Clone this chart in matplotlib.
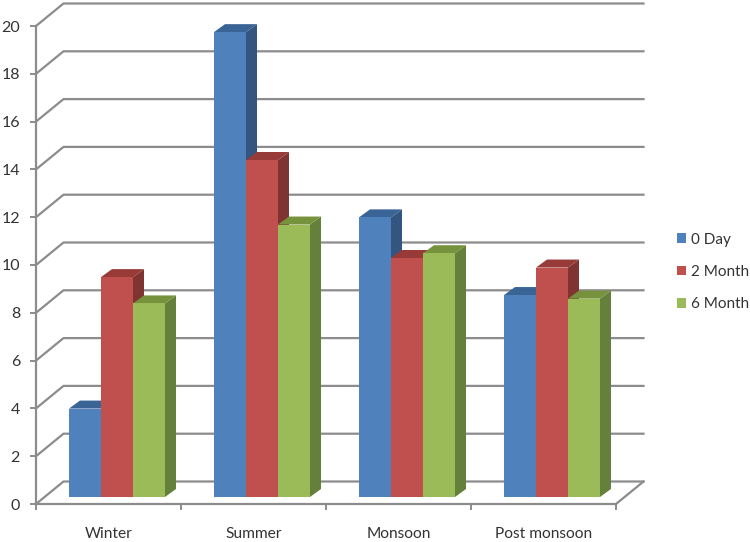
import matplotlib
matplotlib.use("Agg")
import matplotlib.pyplot as plt
from matplotlib.patches import Polygon, Patch

plt.rcParams["font.family"] = ["Lato", "DejaVu Sans"]

categories = ["Winter", "Summer", "Monsoon", "Post monsoon"]
series_names = ["0 Day", "2 Month", "6 Month"]
day0 = [3.7, 19.45, 11.7, 8.45]
month2 = [9.2, 14.1, 10.0, 9.6]
month6 = [8.1, 11.4, 10.2, 8.3]
y_ticks = [0, 2, 4, 6, 8, 10, 12, 14, 16, 18, 20]

front_colors = ["#4F81BD", "#C0504D", "#9BBB59"]
top_colors = ["#3A6496", "#973A38", "#76923C"]
side_colors = ["#34557F", "#803432", "#65803A"]
axis_color = "#8C8C8C"
text_color = "#333333"

W, H = 750, 542
# pixels per data unit
px_x = 145.0
px_y = 23.9

fig = plt.figure(figsize=(W / 100, H / 100), dpi=100)
ax = fig.add_axes([36 / W, (H - 504) / H, 580 / W, 478 / H])
ax.set_xlim(0, len(categories))
ax.set_ylim(0, 20)

# 3d look: the back wall is shifted up and right
wall_dx = 27.5 / px_x
wall_dy = 22.5 / px_y
for v in y_ticks:
    xs = [0, wall_dx, len(categories) + wall_dx]
    ys = [v, v + wall_dy, v + wall_dy]
    ax.plot(xs, ys, color=axis_color, lw=1.6, zorder=1, clip_on=False)
# right edge of the floor
ax.plot([len(categories), len(categories) + wall_dx], [0, wall_dy],
        color=axis_color, lw=1.6, zorder=1, clip_on=False)

bar_w = 32 / px_x
bar_start = 33 / px_x
floor = 7 / px_y
depth_dx = 11 / px_x
depth_dy = 8 / px_y

all_series = [day0, month2, month6]
for s, values in enumerate(all_series):
    z = 3 + s
    for c, v in enumerate(values):
        x0 = c + bar_start + s * bar_w
        x1 = x0 + bar_w
        top_y = floor + v
        # side and top faces first, the front goes on top
        side = Polygon([(x1, floor), (x1 + depth_dx, floor + depth_dy),
                        (x1 + depth_dx, top_y + depth_dy), (x1, top_y)],
                       closed=True, fc=side_colors[s], ec="none", zorder=z, clip_on=False)
        top = Polygon([(x0, top_y), (x0 + depth_dx, top_y + depth_dy),
                       (x1 + depth_dx, top_y + depth_dy), (x1, top_y)],
                      closed=True, fc=top_colors[s], ec="none", zorder=z, clip_on=False)
        ax.add_patch(side)
        ax.add_patch(top)
    ax.bar([c + bar_start + s * bar_w for c in range(len(values))], values, bottom=floor,
           width=bar_w, align="edge", color=front_colors[s], zorder=z + 0.5, clip_on=False)

for name in ["top", "right"]:
    ax.spines[name].set_visible(False)
for name in ["left", "bottom"]:
    ax.spines[name].set_color(axis_color)
    ax.spines[name].set_linewidth(1.6)

ax.set_yticks(y_ticks)
ax.set_xticks(range(len(categories) + 1))
ax.set_xticklabels([])
ax.tick_params(axis="both", length=4, width=1.4, color=axis_color)
ax.tick_params(axis="y", labelsize=11.5, labelcolor=text_color, pad=7.5)

for c, name in enumerate(categories):
    ax.annotate(name, (c + 0.5, 0), xytext=(0, -30 * 0.72), textcoords="offset points",
                ha="center", va="center", fontsize=11.2, color=text_color, annotation_clip=False)

handles = [Patch(fc=col, ec="none") for col in front_colors]
ax.legend(handles, series_names, loc="center left",
          bbox_to_anchor=(677 / W, (H - 272) / H), bbox_transform=fig.transFigure,
          frameon=False, fontsize=11, labelcolor=text_color,
          handlelength=0.6, handleheight=0.6, handletextpad=0.3,
          labelspacing=1.2, borderpad=0, borderaxespad=0)

fig.savefig("out.png", dpi=100)
